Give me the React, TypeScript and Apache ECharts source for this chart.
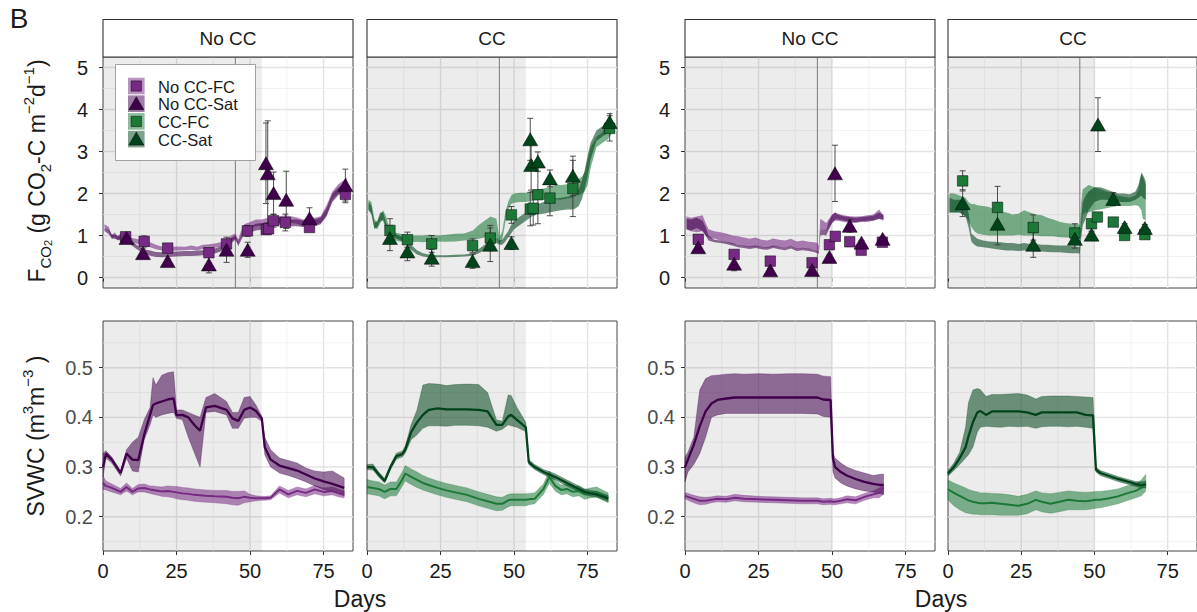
import React, { useEffect, useRef } from "react";
import * as echarts from "echarts";

const FONT = '"Liberation Sans", Arial, Helvetica, sans-serif';

// ---------- tick / grid values ----------
const X_TICKS = [0, 25, 50, 75];
const X_MINOR = [12.5, 37.5, 62.5];
const FLUX_TICKS = [0, 1, 2, 3, 4, 5];
const FLUX_MINOR = [0.5, 1.5, 2.5, 3.5, 4.5];
const SWC_TICKS = [0.2, 0.3, 0.4, 0.5];
const SWC_MINOR = [0.15, 0.25, 0.35, 0.45, 0.55];
const STRIP_LABELS = ["No CC", "CC", "No CC", "CC"];
const SHADE_END = [54, 54, 50, 50];
const VLINE_DAY = 45;
const LEGEND_LABELS = ["No CC-FC", "No CC-Sat", "CC-FC", "CC-Sat"];

// ---------- CO2 flux ribbons, experiment A ----------
const fluxA_nocc_day = [0.5, 2, 3, 4, 5, 6, 8, 10, 12, 14, 16, 18, 20, 22, 25, 28, 30, 32, 34, 36, 38, 40, 42, 44, 45, 46, 47, 48, 50, 52, 54, 56, 58, 60, 62, 64, 66, 68, 70, 72, 74, 76, 78, 80, 82, 83];
const fluxA_noccFC_lo = [1.20, 1.10, 0.92, 0.96, 0.88, 0.94, 0.88, 0.83, 0.80, 0.76, 0.72, 0.67, 0.64, 0.63, 0.64, 0.65, 0.66, 0.65, 0.68, 0.69, 0.71, 0.73, 0.79, 0.88, 0.92, 0.80, 0.98, 1.13, 1.18, 1.22, 1.24, 1.27, 1.30, 1.30, 1.32, 1.30, 1.28, 1.22, 1.27, 1.25, 1.30, 1.48, 1.85, 2.00, 2.08, 2.12];
const fluxA_noccFC_hi = [1.27, 1.20, 1.00, 1.08, 0.97, 1.06, 0.99, 0.94, 0.91, 0.88, 0.84, 0.78, 0.74, 0.72, 0.74, 0.73, 0.76, 0.73, 0.78, 0.79, 0.81, 0.84, 0.92, 1.02, 1.05, 0.91, 1.12, 1.27, 1.32, 1.38, 1.38, 1.42, 1.46, 1.46, 1.48, 1.46, 1.43, 1.38, 1.43, 1.42, 1.46, 1.72, 2.05, 2.22, 2.32, 2.38];
const fluxA_noccSat_lo = [1.11, 1.03, 0.93, 0.92, 0.90, 0.88, 0.85, 0.75, 0.65, 0.57, 0.52, 0.49, 0.48, 0.49, 0.50, 0.51, 0.51, 0.52, 0.53, 0.54, 0.57, 0.62, 0.69, 0.84, 0.90, 0.75, 0.89, 1.03, 1.08, 1.12, 1.14, 1.17, 1.22, 1.26, 1.24, 1.22, 1.22, 1.20, 1.22, 1.22, 1.27, 1.45, 1.80, 1.96, 2.06, 2.10];
const fluxA_noccSat_hi = [1.19, 1.13, 1.03, 1.02, 1.00, 0.98, 0.95, 0.85, 0.75, 0.67, 0.64, 0.61, 0.60, 0.61, 0.62, 0.63, 0.63, 0.64, 0.65, 0.66, 0.69, 0.74, 0.81, 0.96, 1.00, 0.85, 1.01, 1.17, 1.22, 1.28, 1.30, 1.33, 1.38, 1.44, 1.40, 1.38, 1.38, 1.36, 1.38, 1.38, 1.43, 1.65, 2.00, 2.14, 2.24, 2.30];

const fluxA_cc_day = [0.5, 1.5, 2.5, 3.5, 4.5, 5.5, 6.5, 7.5, 9, 11, 13, 15, 17, 19, 21, 24, 27, 30, 33, 36, 38, 40, 42, 44, 45, 46, 47, 48, 49, 50, 52, 54, 56, 58, 60, 62, 64, 66, 68, 70, 71, 72, 73, 74, 75, 76, 78, 80, 82, 83];
const fluxA_ccFC_lo = [1.62, 1.55, 1.20, 1.15, 1.30, 1.40, 1.20, 1.00, 0.90, 0.86, 0.85, 0.84, 0.85, 0.84, 0.85, 0.86, 0.85, 0.86, 0.88, 0.90, 0.92, 0.95, 0.98, 0.95, 0.80, 0.90, 1.30, 1.60, 1.75, 1.78, 1.80, 1.80, 1.82, 1.85, 1.85, 1.88, 1.86, 1.85, 1.88, 1.90, 1.95, 1.95, 2.00, 2.05, 2.20, 2.60, 3.10, 3.20, 3.30, 3.40];
const fluxA_ccFC_hi = [1.85, 1.80, 1.40, 1.30, 1.50, 1.60, 1.45, 1.20, 1.08, 1.05, 1.02, 1.00, 1.00, 1.00, 1.02, 1.00, 1.02, 1.04, 1.05, 1.12, 1.25, 1.35, 1.45, 1.40, 0.95, 1.10, 1.55, 1.80, 1.95, 2.00, 2.02, 2.02, 2.05, 2.10, 2.12, 2.15, 2.20, 2.20, 2.22, 2.25, 2.30, 2.35, 2.40, 2.50, 2.80, 3.10, 3.35, 3.45, 3.70, 3.80];
const fluxA_ccSat_lo = [1.60, 1.50, 1.15, 1.20, 1.35, 1.35, 1.10, 1.00, 0.95, 0.90, 0.82, 0.66, 0.55, 0.50, 0.48, 0.48, 0.48, 0.49, 0.50, 0.52, 0.58, 0.65, 0.75, 0.82, 0.78, 0.78, 0.85, 0.95, 1.05, 1.15, 1.25, 1.35, 1.45, 1.50, 1.52, 1.55, 1.58, 1.60, 1.62, 1.62, 1.65, 1.70, 1.85, 2.10, 2.40, 2.80, 3.25, 3.35, 3.45, 3.50];
const fluxA_ccSat_hi = [1.80, 1.70, 1.30, 1.35, 1.55, 1.55, 1.30, 1.15, 1.05, 1.00, 0.92, 0.78, 0.65, 0.58, 0.55, 0.53, 0.53, 0.54, 0.55, 0.58, 0.68, 0.78, 0.88, 0.95, 0.88, 0.90, 1.00, 1.10, 1.25, 1.35, 1.45, 1.55, 1.65, 1.75, 1.80, 1.85, 1.88, 1.90, 1.92, 1.95, 2.00, 2.10, 2.30, 2.55, 2.90, 3.20, 3.50, 3.60, 3.80, 3.95];

// ---------- CO2 flux ribbons, experiment B ----------
const fluxB_nocc_day = [0.5, 2, 4, 6, 7, 8, 10, 12, 14, 16, 18, 20, 22, 24, 26, 28, 30, 32, 34, 36, 38, 40, 42, 44, 45, 45.5, 46, 47, 48, 49, 50, 51, 52, 54, 56, 58, 60, 62, 64, 66, 67.5];
const fluxB_noccFC_lo = [1.15, 1.10, 1.08, 1.10, 1.00, 0.95, 0.92, 0.88, 0.85, 0.80, 0.78, 0.75, 0.72, 0.74, 0.72, 0.70, 0.74, 0.72, 0.70, 0.74, 0.68, 0.70, 0.68, 0.66, 0.64, 0.62, 1.15, 1.15, 1.10, 1.20, 1.30, 1.35, 1.35, 1.32, 1.30, 1.30, 1.32, 1.32, 1.35, 1.40, 1.35];
const fluxB_noccFC_hi = [1.45, 1.42, 1.45, 1.48, 1.30, 1.15, 1.10, 1.08, 1.05, 1.00, 0.98, 0.95, 0.92, 0.95, 0.90, 0.88, 0.93, 0.90, 0.88, 0.92, 0.86, 0.88, 0.85, 0.84, 0.82, 0.75, 1.40, 1.35, 1.30, 1.40, 1.50, 1.55, 1.52, 1.48, 1.46, 1.45, 1.46, 1.48, 1.50, 1.62, 1.48];
const fluxB_noccSat_lo = [1.15, 1.12, 1.18, 1.10, 1.00, 0.88, 0.84, 0.82, 0.80, 0.76, 0.72, 0.70, 0.68, 0.70, 0.67, 0.66, 0.70, 0.67, 0.65, 0.69, 0.63, 0.65, 0.63, 0.60, 0.58, 0.56, 1.00, 1.02, 1.00, 1.15, 1.30, 1.38, 1.38, 1.35, 1.33, 1.32, 1.34, 1.35, 1.36, 1.40, 1.38];
const fluxB_noccSat_hi = [1.40, 1.38, 1.42, 1.35, 1.20, 1.00, 0.90, 0.88, 0.86, 0.82, 0.78, 0.76, 0.74, 0.76, 0.73, 0.72, 0.76, 0.73, 0.71, 0.75, 0.69, 0.71, 0.69, 0.66, 0.64, 0.62, 1.15, 1.15, 1.12, 1.35, 1.48, 1.55, 1.50, 1.46, 1.44, 1.42, 1.44, 1.45, 1.47, 1.55, 1.48];

const fluxB_cc_day = [0.5, 2, 4, 6, 7, 8, 9, 10, 12, 14, 16, 18, 20, 22, 24, 26, 28, 30, 32, 34, 36, 38, 40, 42, 44, 45, 45.5, 46, 47, 48, 50, 52, 54, 56, 58, 60, 62, 64, 65, 66, 66.5, 67.5];
const fluxB_ccFC_lo = [1.55, 1.55, 1.55, 1.45, 1.35, 1.20, 1.10, 1.05, 1.02, 1.00, 1.00, 1.00, 1.00, 1.00, 1.02, 1.00, 1.00, 1.00, 0.98, 0.98, 0.98, 0.96, 0.95, 0.95, 0.94, 0.93, 1.10, 1.50, 1.55, 1.55, 1.60, 1.62, 1.65, 1.68, 1.70, 1.70, 1.70, 1.72, 1.70, 1.60, 1.40, 1.35];
const fluxB_ccFC_hi = [2.00, 2.00, 1.95, 1.90, 1.80, 1.75, 1.75, 1.72, 1.70, 1.68, 1.62, 1.58, 1.55, 1.50, 1.52, 1.60, 1.55, 1.50, 1.48, 1.42, 1.38, 1.33, 1.30, 1.28, 1.28, 1.25, 1.80, 2.10, 2.15, 2.20, 2.15, 2.10, 2.05, 2.02, 1.95, 1.92, 1.90, 1.95, 2.10, 2.45, 2.40, 2.20];
const fluxB_ccSat_lo = [1.55, 1.55, 1.55, 1.45, 1.20, 0.85, 0.78, 0.74, 0.72, 0.70, 0.68, 0.66, 0.64, 0.64, 0.63, 0.64, 0.63, 0.62, 0.62, 0.61, 0.60, 0.60, 0.59, 0.58, 0.58, 0.57, 0.95, 1.25, 1.40, 1.60, 1.80, 1.85, 1.85, 1.82, 1.80, 1.80, 1.80, 1.85, 1.90, 1.95, 1.90, 1.85];
const fluxB_ccSat_hi = [1.90, 1.85, 1.85, 1.80, 1.55, 1.05, 0.98, 0.92, 0.88, 0.86, 0.85, 0.84, 0.82, 0.82, 0.80, 0.82, 0.80, 0.80, 0.78, 0.78, 0.77, 0.76, 0.76, 0.75, 0.74, 0.72, 1.40, 1.80, 1.95, 2.05, 2.15, 2.15, 2.10, 2.05, 2.00, 2.00, 1.98, 2.05, 2.20, 2.50, 2.45, 2.30];

// ---------- CO2 flux measured points (day, value, error) ----------
const ptsA_noccFC_day = [7.7, 14, 22, 36, 42, 49.1, 55.5, 56.3, 58, 62, 70.2, 82.4];
const ptsA_noccFC_val = [0.97, 0.86, 0.70, 0.59, 0.80, 1.11, 1.14, 1.16, 1.35, 1.31, 1.19, 1.98];
const ptsA_noccFC_err = [0.05, 0.13, 0.05, 0.05, 0.08, 0.13, 0.10, 0.10, 0.15, 0.20, 0.05, 0.20];
const ptsA_noccSat_day = [8, 13.6, 22, 36, 42, 49.2, 55.4, 56, 58, 62.3, 70.2, 82.4];
const ptsA_noccSat_val = [0.94, 0.58, 0.39, 0.31, 0.66, 0.66, 2.72, 2.48, 2.01, 1.85, 1.41, 2.20];
const ptsA_noccSat_err = [0.05, 0.12, 0.05, 0.20, 0.30, 0.18, 0.96, 1.25, 0.50, 0.68, 0.25, 0.38];

const ptsA_ccFC_day = [7.8, 13.75, 22, 35.9, 41.9, 49.1, 55.5, 56.5, 58.1, 62.2, 70, 82.5];
const ptsA_ccFC_val = [1.12, 0.90, 0.80, 0.76, 0.94, 1.49, 1.63, 1.65, 1.97, 1.89, 2.12, 3.55];
const ptsA_ccFC_err = [0.28, 0.18, 0.20, 0.16, 0.30, 0.20, 0.40, 0.40, 0.69, 0.42, 0.67, 0.30];
const ptsA_ccSat_day = [7.8, 13.75, 22, 35.9, 41.9, 49.1, 55.5, 55.8, 58.1, 62.2, 70, 82.5];
const ptsA_ccSat_val = [0.94, 0.62, 0.47, 0.39, 0.78, 0.82, 3.29, 2.68, 2.76, 2.36, 2.42, 3.70];
const ptsA_ccSat_err = [0.30, 0.22, 0.20, 0.17, 0.40, 0.15, 0.50, 0.60, 0.23, 0.20, 0.47, 0.20];

const ptsB_noccFC_day = [4.5, 16.7, 29, 43.2, 49.1, 51.1, 56, 59.9, 67.1];
const ptsB_noccFC_val = [0.91, 0.55, 0.39, 0.35, 0.78, 0.98, 0.85, 0.65, 0.84];
const ptsB_noccFC_err = [0.05, 0.05, 0.04, 0.04, 0.05, 0.05, 0.05, 0.05, 0.05];
const ptsB_noccSat_day = [4.5, 16.7, 29, 43.2, 49.1, 51, 56, 60, 67.2];
const ptsB_noccSat_val = [0.72, 0.33, 0.17, 0.18, 0.49, 2.48, 1.23, 0.83, 0.92];
const ptsB_noccSat_err = [0.05, 0.17, 0.05, 0.05, 0.05, 0.67, 0.15, 0.05, 0.05];

const ptsB_ccFC_day = [5, 16.9, 29.1, 43.3, 49, 51, 56.4, 60.3, 67.2];
const ptsB_ccFC_val = [2.30, 1.67, 1.19, 1.06, 1.28, 1.44, 1.32, 1.00, 1.02];
const ptsB_ccFC_err = [0.24, 0.50, 0.30, 0.22, 0.05, 0.05, 0.05, 0.05, 0.05];
const ptsB_ccSat_day = [5, 16.9, 29.1, 43.3, 49, 51.2, 56.4, 60.3, 67.2];
const ptsB_ccSat_val = [1.77, 1.28, 0.78, 0.92, 1.02, 3.64, 1.87, 1.20, 1.18];
const ptsB_ccSat_err = [0.32, 0.50, 0.30, 0.22, 0.08, 0.64, 0.15, 0.08, 0.08];

// ---------- SVWC, experiment A ----------
const swcA_nocc_day = [0, 1, 3, 6, 8, 10, 12, 14, 16, 17, 18, 20, 22, 24, 25, 27, 29, 31, 33, 35, 38, 42, 44, 46, 48, 50, 52, 54, 55, 57, 60, 63, 66, 69, 72, 75, 78, 80, 82];
const swcA_noccSat_mean = [0.300, 0.327, 0.315, 0.288, 0.327, 0.315, 0.314, 0.365, 0.405, 0.425, 0.428, 0.432, 0.436, 0.438, 0.404, 0.405, 0.400, 0.385, 0.373, 0.420, 0.423, 0.415, 0.398, 0.393, 0.415, 0.420, 0.413, 0.398, 0.340, 0.315, 0.303, 0.298, 0.293, 0.285, 0.277, 0.271, 0.266, 0.262, 0.258];
const swcA_noccSat_lo = [0.280, 0.318, 0.308, 0.282, 0.318, 0.292, 0.290, 0.355, 0.385, 0.405, 0.400, 0.405, 0.408, 0.410, 0.398, 0.395, 0.360, 0.330, 0.300, 0.410, 0.412, 0.405, 0.378, 0.378, 0.398, 0.400, 0.400, 0.392, 0.325, 0.300, 0.288, 0.283, 0.277, 0.270, 0.262, 0.255, 0.250, 0.246, 0.242];
const swcA_noccSat_hi = [0.328, 0.333, 0.320, 0.292, 0.335, 0.350, 0.360, 0.395, 0.420, 0.480, 0.465, 0.485, 0.490, 0.492, 0.415, 0.415, 0.410, 0.405, 0.400, 0.440, 0.448, 0.432, 0.410, 0.410, 0.440, 0.442, 0.425, 0.402, 0.360, 0.335, 0.318, 0.313, 0.308, 0.298, 0.292, 0.290, 0.292, 0.285, 0.278];
const swcA_noccFC_mean = [0.268, 0.262, 0.258, 0.250, 0.260, 0.250, 0.257, 0.258, 0.255, 0.254, 0.253, 0.251, 0.252, 0.250, 0.249, 0.247, 0.246, 0.244, 0.243, 0.242, 0.241, 0.240, 0.238, 0.237, 0.240, 0.238, 0.237, 0.237, 0.237, 0.238, 0.255, 0.245, 0.252, 0.248, 0.255, 0.250, 0.252, 0.248, 0.245];
const swcA_noccFC_lo = [0.255, 0.254, 0.250, 0.244, 0.252, 0.244, 0.250, 0.250, 0.247, 0.245, 0.244, 0.241, 0.240, 0.238, 0.236, 0.234, 0.233, 0.231, 0.230, 0.229, 0.228, 0.226, 0.224, 0.223, 0.228, 0.230, 0.232, 0.233, 0.233, 0.234, 0.248, 0.238, 0.244, 0.240, 0.246, 0.242, 0.244, 0.240, 0.238];
const swcA_noccFC_hi = [0.282, 0.272, 0.266, 0.257, 0.268, 0.257, 0.265, 0.266, 0.262, 0.262, 0.261, 0.260, 0.262, 0.261, 0.261, 0.259, 0.258, 0.256, 0.255, 0.254, 0.253, 0.253, 0.251, 0.251, 0.252, 0.245, 0.242, 0.241, 0.241, 0.242, 0.262, 0.253, 0.260, 0.256, 0.263, 0.258, 0.260, 0.256, 0.252];

const swcA_cc_day = [0, 2, 4, 6, 8, 10, 12, 13, 15, 17, 19, 21, 24, 27, 30, 34, 38, 41, 44, 46, 48, 49, 51, 53, 54, 55, 57, 60, 62, 64, 66, 68, 70, 72, 74, 76, 78, 80, 82];
const swcA_ccSat_mean = [0.300, 0.300, 0.285, 0.272, 0.300, 0.322, 0.326, 0.335, 0.370, 0.390, 0.405, 0.415, 0.418, 0.416, 0.416, 0.416, 0.415, 0.412, 0.385, 0.385, 0.402, 0.405, 0.395, 0.385, 0.380, 0.310, 0.300, 0.290, 0.285, 0.280, 0.274, 0.268, 0.262, 0.256, 0.250, 0.247, 0.245, 0.241, 0.237];
const swcA_ccSat_lo = [0.295, 0.294, 0.280, 0.268, 0.295, 0.316, 0.320, 0.328, 0.355, 0.365, 0.378, 0.383, 0.383, 0.382, 0.384, 0.384, 0.383, 0.380, 0.372, 0.376, 0.385, 0.383, 0.380, 0.374, 0.372, 0.305, 0.295, 0.285, 0.279, 0.274, 0.268, 0.262, 0.256, 0.250, 0.244, 0.241, 0.239, 0.235, 0.231];
const swcA_ccSat_hi = [0.305, 0.306, 0.290, 0.277, 0.305, 0.328, 0.332, 0.342, 0.385, 0.415, 0.465, 0.468, 0.467, 0.464, 0.466, 0.467, 0.466, 0.450, 0.395, 0.392, 0.445, 0.444, 0.420, 0.400, 0.390, 0.315, 0.305, 0.295, 0.291, 0.286, 0.280, 0.274, 0.268, 0.262, 0.256, 0.253, 0.251, 0.247, 0.243];
const swcA_ccFC_mean = [0.260, 0.258, 0.256, 0.250, 0.256, 0.256, 0.275, 0.287, 0.280, 0.274, 0.268, 0.264, 0.258, 0.253, 0.249, 0.244, 0.236, 0.231, 0.226, 0.226, 0.233, 0.234, 0.234, 0.234, 0.234, 0.235, 0.236, 0.256, 0.280, 0.262, 0.254, 0.256, 0.250, 0.252, 0.245, 0.248, 0.250, 0.244, 0.238];
const swcA_ccFC_lo = [0.246, 0.244, 0.242, 0.236, 0.242, 0.242, 0.262, 0.272, 0.265, 0.259, 0.254, 0.250, 0.244, 0.239, 0.235, 0.230, 0.222, 0.217, 0.212, 0.213, 0.220, 0.222, 0.222, 0.222, 0.222, 0.224, 0.226, 0.245, 0.268, 0.252, 0.244, 0.246, 0.240, 0.242, 0.235, 0.238, 0.240, 0.234, 0.228];
const swcA_ccFC_hi = [0.275, 0.272, 0.270, 0.264, 0.270, 0.270, 0.290, 0.303, 0.296, 0.290, 0.283, 0.278, 0.272, 0.267, 0.263, 0.258, 0.250, 0.245, 0.240, 0.239, 0.245, 0.246, 0.246, 0.246, 0.246, 0.247, 0.248, 0.266, 0.292, 0.272, 0.264, 0.266, 0.260, 0.262, 0.255, 0.258, 0.260, 0.254, 0.248];

// ---------- SVWC, experiment B ----------
const swcB_nocc_day = [0, 1, 3, 5, 7, 9, 11, 14, 17, 20, 25, 30, 35, 40, 45, 47, 49.5, 50.3, 51, 53, 55, 58, 61, 64, 66, 67.5];
const swcB_noccSat_mean = [0.300, 0.315, 0.345, 0.382, 0.412, 0.428, 0.435, 0.438, 0.440, 0.440, 0.440, 0.440, 0.440, 0.440, 0.440, 0.436, 0.435, 0.318, 0.300, 0.290, 0.283, 0.276, 0.270, 0.266, 0.264, 0.264];
const swcB_noccSat_lo = [0.270, 0.290, 0.305, 0.327, 0.360, 0.400, 0.405, 0.408, 0.408, 0.408, 0.408, 0.408, 0.408, 0.408, 0.407, 0.402, 0.400, 0.290, 0.278, 0.268, 0.262, 0.256, 0.252, 0.250, 0.247, 0.245];
const swcB_noccSat_hi = [0.320, 0.330, 0.360, 0.455, 0.478, 0.484, 0.485, 0.487, 0.488, 0.487, 0.488, 0.487, 0.488, 0.488, 0.487, 0.483, 0.482, 0.330, 0.318, 0.308, 0.300, 0.293, 0.288, 0.283, 0.285, 0.286];
const swcB_noccFC_mean = [0.242, 0.240, 0.236, 0.232, 0.232, 0.234, 0.236, 0.235, 0.238, 0.236, 0.235, 0.234, 0.233, 0.232, 0.232, 0.230, 0.231, 0.230, 0.230, 0.232, 0.235, 0.233, 0.240, 0.245, 0.248, 0.258];
const swcB_noccFC_lo = [0.236, 0.233, 0.228, 0.224, 0.225, 0.228, 0.230, 0.229, 0.232, 0.230, 0.229, 0.228, 0.227, 0.226, 0.226, 0.224, 0.225, 0.224, 0.224, 0.226, 0.228, 0.226, 0.233, 0.238, 0.238, 0.245];
const swcB_noccFC_hi = [0.249, 0.247, 0.243, 0.240, 0.239, 0.240, 0.242, 0.241, 0.245, 0.243, 0.241, 0.240, 0.239, 0.238, 0.238, 0.236, 0.237, 0.236, 0.236, 0.238, 0.242, 0.240, 0.247, 0.252, 0.258, 0.265];

const swcB_cc_day = [0, 2, 4, 6, 7, 8.5, 10, 11, 13, 15, 18, 21, 24, 27, 30, 32, 35, 38, 41, 44, 47, 49.5, 50.5, 52, 55, 58, 61, 64, 66, 67.5];
const swcB_ccSat_mean = [0.287, 0.300, 0.318, 0.340, 0.362, 0.390, 0.410, 0.413, 0.405, 0.412, 0.412, 0.412, 0.412, 0.410, 0.405, 0.410, 0.410, 0.410, 0.410, 0.410, 0.405, 0.404, 0.295, 0.288, 0.282, 0.276, 0.271, 0.266, 0.263, 0.265];
const swcB_ccSat_lo = [0.282, 0.293, 0.305, 0.318, 0.325, 0.340, 0.370, 0.380, 0.382, 0.381, 0.380, 0.382, 0.381, 0.382, 0.378, 0.381, 0.382, 0.382, 0.381, 0.382, 0.380, 0.378, 0.290, 0.283, 0.277, 0.271, 0.266, 0.261, 0.258, 0.258];
const swcB_ccSat_hi = [0.292, 0.308, 0.330, 0.380, 0.430, 0.455, 0.458, 0.456, 0.442, 0.446, 0.446, 0.447, 0.448, 0.445, 0.437, 0.442, 0.443, 0.443, 0.443, 0.442, 0.441, 0.440, 0.300, 0.293, 0.287, 0.281, 0.276, 0.271, 0.270, 0.272];
const swcB_ccFC_mean = [0.255, 0.248, 0.242, 0.236, 0.233, 0.230, 0.228, 0.227, 0.227, 0.228, 0.226, 0.224, 0.222, 0.226, 0.234, 0.230, 0.226, 0.230, 0.234, 0.232, 0.231, 0.233, 0.234, 0.234, 0.237, 0.241, 0.247, 0.252, 0.258, 0.266];
const swcB_ccFC_lo = [0.234, 0.222, 0.214, 0.208, 0.207, 0.205, 0.205, 0.204, 0.204, 0.204, 0.203, 0.203, 0.203, 0.206, 0.214, 0.210, 0.207, 0.210, 0.214, 0.214, 0.214, 0.216, 0.217, 0.218, 0.222, 0.226, 0.232, 0.238, 0.242, 0.252];
const swcB_ccFC_hi = [0.274, 0.268, 0.263, 0.258, 0.255, 0.252, 0.250, 0.248, 0.248, 0.247, 0.246, 0.244, 0.241, 0.245, 0.252, 0.248, 0.246, 0.249, 0.252, 0.250, 0.249, 0.250, 0.251, 0.251, 0.253, 0.256, 0.262, 0.266, 0.274, 0.285];

// ---------- styling ----------
const COL = { noccFC: "#762A83", noccSat: "#40004B", ccFC: "#1B7837", ccSat: "#00441B" };
const LEGEND_COLORS = [COL.noccFC, COL.noccSat, COL.ccFC, COL.ccSat];
const PANEL_LEFT = [103, 367, 685, 948];
const PANEL_W = 250;
const ROW_TOP = [57, 321];
const ROW_H = [231, 230];

function rgba(hex: string, a: number) {
  const n = parseInt(hex.slice(1), 16);
  return `rgba(${(n >> 16) & 255},${(n >> 8) & 255},${n & 255},${a})`;
}

function gridLineSeries(gi: number, xMaj: number[], xMin: number[], yMaj: number[], yMin: number[]) {
  const data: number[][] = [];
  xMaj.forEach((v) => data.push([0, v, 1]));
  xMin.forEach((v) => data.push([0, v, 0]));
  yMaj.forEach((v) => data.push([1, v, 1]));
  yMin.forEach((v) => data.push([1, v, 0]));
  return {
    type: "custom", xAxisIndex: gi, yAxisIndex: gi, z: 1, silent: true, data,
    renderItem: (params: any, api: any) => {
      const cs = params.coordSys;
      const kind = api.value(0), v = api.value(1), major = api.value(2);
      const style = major ? { stroke: "#E3E3E3", lineWidth: 1.4 } : { stroke: "#EFEFEF", lineWidth: 0.8 };
      if (kind === 0) {
        const x = api.coord([v, 0.3])[0];
        return { type: "line", shape: { x1: x, y1: cs.y, x2: x, y2: cs.y + cs.height }, style };
      }
      const y = api.coord([0, v])[1];
      return { type: "line", shape: { x1: cs.x, y1: y, x2: cs.x + cs.width, y2: y }, style };
    },
  };
}

function shadeSeries(gi: number, end: number) {
  return {
    type: "custom", xAxisIndex: gi, yAxisIndex: gi, z: 2, silent: true, data: [[0, end]],
    renderItem: (params: any, api: any) => {
      const cs = params.coordSys;
      const x0 = api.coord([api.value(0), 0.3])[0];
      const x1 = api.coord([api.value(1), 0.3])[0];
      return { type: "rect", shape: { x: x0, y: cs.y, width: x1 - x0, height: cs.height }, style: { fill: "rgba(0,0,0,0.075)" } };
    },
  };
}

function vlineSeries(gi: number, day: number) {
  return {
    type: "custom", xAxisIndex: gi, yAxisIndex: gi, z: 2.5, silent: true, data: [[day, 0]],
    renderItem: (params: any, api: any) => {
      const cs = params.coordSys;
      const x = api.coord([api.value(0), 0])[0];
      return { type: "line", shape: { x1: x, y1: cs.y, x2: x, y2: cs.y + cs.height }, style: { stroke: "#7a7a7a", lineWidth: 1 } };
    },
  };
}

function ribbonSeries(gi: number, days: number[], lo: number[], hi: number[], color: string, alpha: number, edge: boolean) {
  return {
    type: "custom", xAxisIndex: gi, yAxisIndex: gi, z: 3, silent: true,
    data: days.map((d, i) => [d, lo[i], hi[i]]),
    encode: { x: 0, y: [1, 2] },
    renderItem: (params: any, api: any) => {
      if (params.dataIndex !== 0) return null;
      const pts: number[][] = [];
      for (let i = 0; i < days.length; i++) pts.push(api.coord([days[i], hi[i]]));
      for (let i = days.length - 1; i >= 0; i--) pts.push(api.coord([days[i], lo[i]]));
      return {
        type: "polygon", shape: { points: pts },
        style: { fill: rgba(color, alpha), stroke: edge ? rgba(color, 0.5) : "none", lineWidth: edge ? 0.6 : 0 },
      };
    },
  };
}

function meanLine(gi: number, days: number[], vals: number[], color: string, width: number) {
  return {
    type: "line", xAxisIndex: gi, yAxisIndex: gi, z: 4, silent: true, showSymbol: false, symbol: "none",
    data: days.map((d, i) => [d, vals[i]]),
    lineStyle: { color, width },
  };
}

function errSeries(gi: number, days: number[], vals: number[], errs: number[]) {
  return {
    type: "custom", xAxisIndex: gi, yAxisIndex: gi, z: 5, silent: true,
    data: days.map((d, i) => [d, vals[i] - errs[i], vals[i] + errs[i]]),
    encode: { x: 0, y: [1, 2] },
    renderItem: (params: any, api: any) => {
      const lo = api.coord([api.value(0), api.value(1)]);
      const hi = api.coord([api.value(0), api.value(2)]);
      const w = 3;
      const style = { stroke: "#3a3a3a", lineWidth: 0.9 };
      return {
        type: "group",
        children: [
          { type: "line", shape: { x1: lo[0], y1: lo[1], x2: hi[0], y2: hi[1] }, style },
          { type: "line", shape: { x1: lo[0] - w, y1: lo[1], x2: lo[0] + w, y2: lo[1] }, style },
          { type: "line", shape: { x1: hi[0] - w, y1: hi[1], x2: hi[0] + w, y2: hi[1] }, style },
        ],
      };
    },
  };
}

function pointSeries(gi: number, days: number[], vals: number[], color: string, tri: boolean) {
  return {
    type: "scatter", xAxisIndex: gi, yAxisIndex: gi, z: 6, silent: true,
    symbol: tri ? "triangle" : "rect",
    symbolSize: tri ? [15, 13] : 10.5,
    data: days.map((d, i) => [d, vals[i]]),
    itemStyle: { color, borderColor: "rgba(0,0,0,0.6)", borderWidth: 0.8, opacity: 1 },
  };
}

function buildOption() {
  const grids: any[] = [];
  const xAxes: any[] = [];
  const yAxes: any[] = [];
  const series: any[] = [];

  for (let i = 0; i < 8; i++) {
    const row = i < 4 ? 0 : 1;
    const col = i % 4;
    const showY = col === 0 || col === 2;
    grids.push({
      left: PANEL_LEFT[col], top: ROW_TOP[row], width: PANEL_W, height: ROW_H[row],
      show: true, borderColor: "#444", borderWidth: 1, backgroundColor: "#fff", containLabel: false,
    });
    xAxes.push({
      gridIndex: i, type: "value", min: 0, max: 85, interval: 25,
      axisLine: { show: false },
      axisTick: { show: true, length: 4, lineStyle: { color: "#333", width: 1 }, customValues: X_TICKS },
      axisLabel: {
        show: row === 1, customValues: X_TICKS, color: "#1a1a1a", fontSize: 20, margin: 10, fontFamily: FONT,
        formatter: (v: number) => String(Math.round(v)),
      },
      splitLine: { show: false },
    });
    yAxes.push({
      gridIndex: i, type: "value",
      min: row === 0 ? -0.25 : 0.131, max: row === 0 ? 5.25 : 0.594,
      axisLine: { show: false },
      axisTick: { show: showY, length: 4, lineStyle: { color: "#333", width: 1 }, customValues: row === 0 ? FLUX_TICKS : SWC_TICKS },
      axisLabel: {
        show: showY, customValues: row === 0 ? FLUX_TICKS : SWC_TICKS,
        color: row === 0 ? "#1a1a1a" : "#4d4d4d", fontSize: 20, margin: row === 0 ? 15 : 10, fontFamily: FONT,
        formatter: (v: number) => (row === 0 ? String(Math.round(v)) : v.toFixed(1)),
      },
      splitLine: { show: false },
    });
    series.push(gridLineSeries(i, X_TICKS.slice(1), X_MINOR, row === 0 ? FLUX_TICKS : SWC_TICKS, row === 0 ? FLUX_MINOR : SWC_MINOR));
    series.push(shadeSeries(i, SHADE_END[col]));
    if (row === 0) series.push(vlineSeries(i, VLINE_DAY));
  }

  const RA = 0.58;
  // top row ribbons
  series.push(ribbonSeries(0, fluxA_nocc_day, fluxA_noccFC_lo, fluxA_noccFC_hi, COL.noccFC, RA, false));
  series.push(ribbonSeries(0, fluxA_nocc_day, fluxA_noccSat_lo, fluxA_noccSat_hi, COL.noccSat, RA, false));
  series.push(ribbonSeries(1, fluxA_cc_day, fluxA_ccFC_lo, fluxA_ccFC_hi, COL.ccFC, RA, false));
  series.push(ribbonSeries(1, fluxA_cc_day, fluxA_ccSat_lo, fluxA_ccSat_hi, COL.ccSat, RA, false));
  series.push(ribbonSeries(2, fluxB_nocc_day, fluxB_noccFC_lo, fluxB_noccFC_hi, COL.noccFC, RA, false));
  series.push(ribbonSeries(2, fluxB_nocc_day, fluxB_noccSat_lo, fluxB_noccSat_hi, COL.noccSat, RA, false));
  series.push(ribbonSeries(3, fluxB_cc_day, fluxB_ccFC_lo, fluxB_ccFC_hi, COL.ccFC, RA, false));
  series.push(ribbonSeries(3, fluxB_cc_day, fluxB_ccSat_lo, fluxB_ccSat_hi, COL.ccSat, RA, false));

  // top row points with error bars
  const pts: [number, number[], number[], number[], string, boolean][] = [
    [0, ptsA_noccFC_day, ptsA_noccFC_val, ptsA_noccFC_err, COL.noccFC, false],
    [0, ptsA_noccSat_day, ptsA_noccSat_val, ptsA_noccSat_err, COL.noccSat, true],
    [1, ptsA_ccFC_day, ptsA_ccFC_val, ptsA_ccFC_err, COL.ccFC, false],
    [1, ptsA_ccSat_day, ptsA_ccSat_val, ptsA_ccSat_err, COL.ccSat, true],
    [2, ptsB_noccFC_day, ptsB_noccFC_val, ptsB_noccFC_err, COL.noccFC, false],
    [2, ptsB_noccSat_day, ptsB_noccSat_val, ptsB_noccSat_err, COL.noccSat, true],
    [3, ptsB_ccFC_day, ptsB_ccFC_val, ptsB_ccFC_err, COL.ccFC, false],
    [3, ptsB_ccSat_day, ptsB_ccSat_val, ptsB_ccSat_err, COL.ccSat, true],
  ];
  pts.forEach(([gi, d, v, e]) => series.push(errSeries(gi, d, v, e)));
  pts.forEach(([gi, d, v, , c, tri]) => series.push(pointSeries(gi, d, v, c, tri)));

  // bottom row ribbons and mean lines
  const SA = 0.55;
  const swc: [number, number[], number[], number[], number[], string, number][] = [
    [4, swcA_nocc_day, swcA_noccFC_lo, swcA_noccFC_hi, swcA_noccFC_mean, COL.noccFC, 2],
    [4, swcA_nocc_day, swcA_noccSat_lo, swcA_noccSat_hi, swcA_noccSat_mean, COL.noccSat, 2.3],
    [5, swcA_cc_day, swcA_ccFC_lo, swcA_ccFC_hi, swcA_ccFC_mean, COL.ccFC, 2],
    [5, swcA_cc_day, swcA_ccSat_lo, swcA_ccSat_hi, swcA_ccSat_mean, COL.ccSat, 2.3],
    [6, swcB_nocc_day, swcB_noccFC_lo, swcB_noccFC_hi, swcB_noccFC_mean, COL.noccFC, 2],
    [6, swcB_nocc_day, swcB_noccSat_lo, swcB_noccSat_hi, swcB_noccSat_mean, COL.noccSat, 2.3],
    [7, swcB_cc_day, swcB_ccFC_lo, swcB_ccFC_hi, swcB_ccFC_mean, COL.ccFC, 2],
    [7, swcB_cc_day, swcB_ccSat_lo, swcB_ccSat_hi, swcB_ccSat_mean, COL.ccSat, 2.3],
  ];
  swc.forEach(([gi, d, lo, hi, , c]) => series.push(ribbonSeries(gi, d, lo, hi, c, SA, true)));
  swc.forEach(([gi, d, , , m, c, w]) => series.push(meanLine(gi, d, m, c, w)));

  // ---------- graphic: strips, legend, titles ----------
  const txt = (x: number, y: number, text: string, size: number, extra: any = {}) => ({
    type: "text", x, y, z: 100, silent: true,
    style: {
      text, fontSize: size, fontFamily: FONT, fill: "#1a1a1a",
      align: "center", verticalAlign: "middle", textAlign: "center", textVerticalAlign: "middle", ...extra,
    },
  });
  const elements: any[] = [];
  elements.push(txt(19, 18, "B", 28));
  for (let c = 0; c < 4; c++) {
    elements.push({
      type: "rect", z: 100, silent: true,
      shape: { x: PANEL_LEFT[c], y: 19.5, width: PANEL_W, height: 37.5 },
      style: { fill: "#fff", stroke: "#333", lineWidth: 1.1 },
    });
    elements.push(txt(PANEL_LEFT[c] + PANEL_W / 2, 38.5, STRIP_LABELS[c], 19));
  }
  // legend
  elements.push({
    type: "rect", z: 100, silent: true,
    shape: { x: 115.5, y: 64.5, width: 140, height: 96 },
    style: { fill: "#fff", stroke: "#8c8c8c", lineWidth: 0.8 },
  });
  LEGEND_LABELS.forEach((lab, i) => {
    const cy = 86 + i * 17.7;
    const color = LEGEND_COLORS[i];
    const tri = i % 2 === 1;
    elements.push({
      type: "rect", z: 101, silent: true,
      shape: { x: 128, y: cy - 8.3, width: 16.6, height: 16.6 },
      style: { fill: rgba(color, 0.5) },
    });
    if (tri) {
      elements.push({
        type: "polygon", z: 102, silent: true,
        shape: { points: [[136.3, cy - 7], [143.8, cy + 6], [128.8, cy + 6]] },
        style: { fill: color, stroke: "rgba(0,0,0,0.6)", lineWidth: 0.8 },
      });
    } else {
      elements.push({
        type: "rect", z: 102, silent: true,
        shape: { x: 131.1, y: cy - 5.1, width: 10.3, height: 10.3 },
        style: { fill: color, stroke: "rgba(0,0,0,0.6)", lineWidth: 0.8 },
      });
    }
    elements.push(txt(158, cy + 0.5, lab, 16.5, { align: "left", textAlign: "left" }));
  });
  // y titles
  const main = { fontSize: 23, lineHeight: 32, fontFamily: FONT, fill: "#1a1a1a", color: "#1a1a1a" };
  const sub = { fontSize: 15, verticalAlign: "bottom", fontFamily: FONT, fill: "#1a1a1a", color: "#1a1a1a" };
  const subsub = { fontSize: 11, verticalAlign: "bottom", fontFamily: FONT, fill: "#1a1a1a", color: "#1a1a1a" };
  const sup = { fontSize: 15, verticalAlign: "top", fontFamily: FONT, fill: "#1a1a1a", color: "#1a1a1a" };
  elements.push({
    type: "text", x: 37, y: 171, rotation: Math.PI / 2, z: 100, silent: true,
    style: {
      text: "{a|F}{b|CO}{c|2}{a| (g CO}{b|2}{a|-C m}{e|−2}{a|d}{e|−1}{a|)}",
      rich: { a: main, b: sub, c: subsub, e: sup },
      align: "center", verticalAlign: "middle", textAlign: "center", textVerticalAlign: "middle",
    },
  });
  elements.push({
    type: "text", x: 36, y: 436, rotation: Math.PI / 2, z: 100, silent: true,
    style: {
      text: "{a|SVWC (m}{e|3}{a|m}{e|−3}{a| )}",
      rich: { a: main, e: sup },
      align: "center", verticalAlign: "middle", textAlign: "center", textVerticalAlign: "middle",
    },
  });
  elements.push(txt(360, 599, "Days", 23));
  elements.push(txt(941, 599, "Days", 23));

  return {
    animation: false,
    backgroundColor: "#fff",
    textStyle: { fontFamily: FONT },
    grid: grids,
    xAxis: xAxes,
    yAxis: yAxes,
    series,
    graphic: { elements },
  };
}

export default function App() {
  const ref = useRef<HTMLDivElement>(null);
  useEffect(() => {
    const chart = echarts.init(ref.current!, null, { renderer: "svg" });
    chart.setOption(buildOption() as any);
    return () => chart.dispose();
  }, []);
  return (
    <div
      ref={ref}
      style={{ position: "absolute", left: 0, top: 0, width: 1197, height: 612, background: "#fff" }}
    />
  );
}
